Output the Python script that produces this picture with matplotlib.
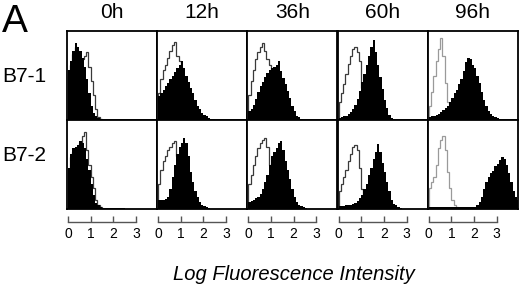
import numpy as np
import matplotlib.pyplot as plt

plt.rcParams['font.family'] = ['Liberation Sans', 'DejaVu Sans']

times = ['0h', '12h', '36h', '60h', '96h']
rows = ['B7-1', 'B7-2']
tick_vals = [0, 1, 2, 3]

# histogram heights (fraction of panel height), bins of 0.1 log units starting at 0
b71_stain = [
    [.56, .66, .78, .86, .82, .77, .70, .60, .46, .30, .16, .08, .04, .02, .01],
    [.27, .30, .34, .38, .42, .46, .50, .54, .58, .62, .66, .58, .50, .43, .36, .30, .23, .16, .12, .08,
     .06, .04, .02, .01, .01],
    [.10, .12, .17, .24, .32, .38, .43, .48, .53, .56, .58, .60, .62, .66, .55, .47, .40, .33, .25, .16,
     .10, .05, .03, .01],
    [.02, .03, .04, .05, .07, .09, .12, .17, .24, .33, .43, .52, .62, .72, .82, .90, .76, .62, .48, .35,
     .22, .13, .06, .02, .01],
    [.03, .04, .05, .06, .07, .09, .11, .13, .16, .20, .25, .30, .34, .40, .46, .55, .65, .70, .68, .62,
     .58, .50, .42, .32, .23, .16, .10, .07, .05, .03, .02, .01],
]
b71_ctrl = [
    [.50, .62, .74, .82, .74, .64, .68, .72, .76, .60, .44, .28, .12, .03, .01],
    [.30, .46, .56, .62, .70, .78, .84, .88, .72, .66, .58, .44, .30, .16, .07, .02],
    [.28, .44, .56, .68, .76, .82, .86, .78, .68, .62, .50, .36, .22, .12, .05, .02],
    [.20, .30, .40, .52, .63, .72, .80, .82, .76, .66, .36, .12, .04, .01],
    [.16, .32, .50, .66, .80, .92, .72, .42, .20, .12, .05, .02],
]
b72_stain = [
    [.46, .62, .68, .70, .72, .76, .74, .68, .56, .44, .28, .16, .07, .04, .02, .01, .01, .01, .01, .01,
     .01, .01, .01, .01, .01],
    [.10, .10, .10, .11, .14, .22, .36, .50, .62, .70, .74, .80, .74, .60, .42, .30, .20, .13, .08, .05,
     .03, .02, .01],
    [.08, .09, .10, .12, .14, .17, .22, .30, .38, .50, .60, .64, .68, .74, .76, .66, .54, .44, .34, .22,
     .14, .08, .05, .03, .02, .01],
    [.03, .03, .03, .04, .04, .05, .06, .07, .09, .12, .16, .22, .28, .38, .46, .56, .64, .73, .64, .52,
     .42, .30, .20, .10, .06, .04, .02, .01],
    [.02, .02, .02, .02, .02, .02, .02, .02, .02, .02, .02, .02, .02, .02, .02, .02, .02, .02, .02, .02,
     .02, .04, .08, .14, .22, .30, .36, .40, .43, .48, .51, .55, .58, .56, .50, .40, .30, .20, .14, .10],
]
b72_ctrl = [
    [.42, .58, .64, .66, .68, .74, .82, .86, .66, .50, .36, .24, .10, .04, .02],
    [.28, .44, .54, .60, .66, .70, .74, .76, .60, .44, .30, .16, .06],
    [.28, .38, .50, .60, .68, .74, .78, .80, .70, .50, .34, .20, .10, .04],
    [.20, .28, .36, .44, .54, .62, .70, .72, .66, .46, .22, .08, .03],
    [.24, .30, .36, .50, .68, .78, .82, .66, .42, .24, .10, .04, .02, .01],
]

edges = np.arange(41) * 0.1


def pad(v):
    out = np.zeros(40)
    out[:len(v)] = v
    return out


fig = plt.figure(figsize=(5.2, 2.87), dpi=100)
W, H = 520.0, 287.0
col_x = [67 + 90.2 * i for i in range(5)]
row_y = [(31, 120), (120, 209)]
data = [(b71_stain, b71_ctrl), (b72_stain, b72_ctrl)]

for r, (stain, ctrl) in enumerate(data):
    top, bot = row_y[r]
    for c in range(5):
        ax = fig.add_axes([col_x[c] / W, 1 - bot / H, 90 / W, (bot - top) / H])
        lc = '#9a9a9a' if c == 4 else '#3a3a3a'
        ax.stairs(pad(ctrl[c]), edges, color=lc, lw=0.9, zorder=1)
        ax.stairs(pad(stain[c]), edges, fill=True, color='black', zorder=2)
        ax.set_xlim(-0.04, 3.93)
        ax.set_ylim(0, 1)
        ax.set_xticks([])
        ax.set_yticks([])
        for s in ax.spines.values():
            s.set_linewidth(1.3)
        if r == 0:
            fig.text((col_x[c] + 45) / W, 1 - 13 / H, times[c], ha='center', va='center', fontsize=15)

fig.text(24.5 / W, 1 - 76 / H, rows[0], ha='center', va='center', fontsize=15)
fig.text(24.5 / W, 1 - 155.5 / H, rows[1], ha='center', va='center', fontsize=15)
fig.text(15 / W, 1 - 32 / H, 'A', ha='center', va='baseline', fontsize=28)

# scale bars under each column
for c in range(5):
    sx = fig.add_axes([col_x[c] / W, 1 - 222 / H, 90 / W, 0.03])
    sx.set_xlim(-0.04, 3.93)
    sx.patch.set_visible(False)
    for k in ['top', 'left', 'right']:
        sx.spines[k].set_visible(False)
    sx.spines['bottom'].set_bounds(0, 3)
    sx.spines['bottom'].set_color('#555555')
    sx.spines['bottom'].set_linewidth(1.0)
    sx.set_yticks([])
    sx.set_xticks(tick_vals)
    sx.set_xticklabels([str(t) for t in tick_vals])
    sx.tick_params(axis='x', direction='in', length=4, width=1.0, color='#555555', pad=3.5, labelsize=10)

fig.text(294 / W, 1 - 275 / H, 'Log Fluorescence Intensity', ha='center', va='center',
         fontsize=14.5, style='italic')

fig.savefig('out.png', dpi=100)
